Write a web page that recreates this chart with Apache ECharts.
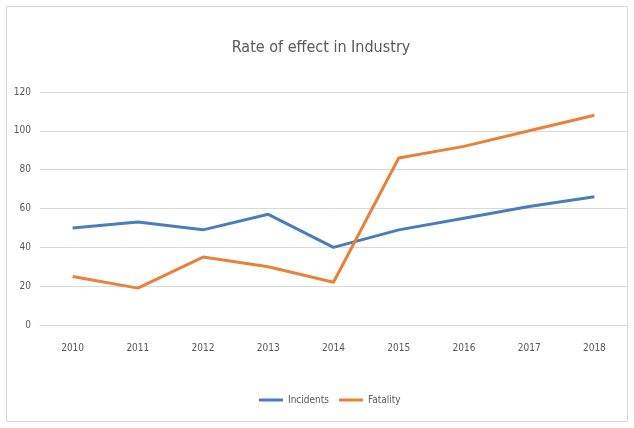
<!DOCTYPE html>
<html><head><meta charset="utf-8">
<script src="https://cdn.jsdelivr.net/npm/echarts@6/dist/echarts.min.js"></script>
<style>html,body{margin:0;padding:0;background:#fff}#c{width:634px;height:428px}</style>
</head><body><div id="c"></div>
<script>
const years = ['2010','2011','2012','2013','2014','2015','2016','2017','2018'];
const incidents = [50, 53, 49, 57, 40, 49, 55, 61, 66];
const fatality = [25, 19, 35, 30, 22, 86, 92, 100, 108];
const yTicks = [0, 20, 40, 60, 80, 100, 120];

const font = '"DejaVu Sans Condensed", "Liberation Sans", sans-serif';
const chart = echarts.init(document.getElementById('c'), null, {renderer: 'canvas'});
chart.setOption({
  animation: false,
  backgroundColor: '#fff',
  title: {
    text: 'Rate of effect in Industry', left: 316, textAlign: 'center', top: 35,
    textStyle: {fontFamily: font, fontSize: 16, fontWeight: 'normal', color: '#595959'}
  },
  graphic: [{type: 'rect', shape: {x: 6.5, y: 6.5, width: 621, height: 415},
    style: {fill: 'none', stroke: '#d9d9d9', lineWidth: 1}, silent: true}],
  legend: {
    top: 390, left: 254, itemWidth: 24, itemHeight: 3, itemGap: 10,
    icon: 'rect',
    textStyle: {fontFamily: font, fontSize: 10, color: '#595959'},
    data: ['Incidents', 'Fatality']
  },
  grid: {left: 40, right: 7, top: 92, bottom: 103},
  xAxis: {
    type: 'category', data: years, boundaryGap: true,
    axisLine: {lineStyle: {color: '#d9d9d9'}}, axisTick: {show: false},
    axisLabel: {fontFamily: font, fontSize: 10, color: '#595959', margin: 18}
  },
  yAxis: {
    type: 'value', min: yTicks[0], max: yTicks[yTicks.length - 1], interval: 20,
    axisLine: {show: false}, axisTick: {show: false},
    axisLabel: {fontFamily: font, fontSize: 10, color: '#595959', margin: 9},
    splitLine: {lineStyle: {color: '#d9d9d9', width: 1}}
  },
  series: [
    {name: 'Incidents', type: 'line', data: incidents, showSymbol: false, symbol: 'none',
     lineStyle: {color: '#4a7ebb', width: 3}, itemStyle: {color: '#4a7ebb'}},
    {name: 'Fatality', type: 'line', data: fatality, showSymbol: false, symbol: 'none',
     lineStyle: {color: '#e9813a', width: 3}, itemStyle: {color: '#e9813a'}}
  ]
});
</script></body></html>
